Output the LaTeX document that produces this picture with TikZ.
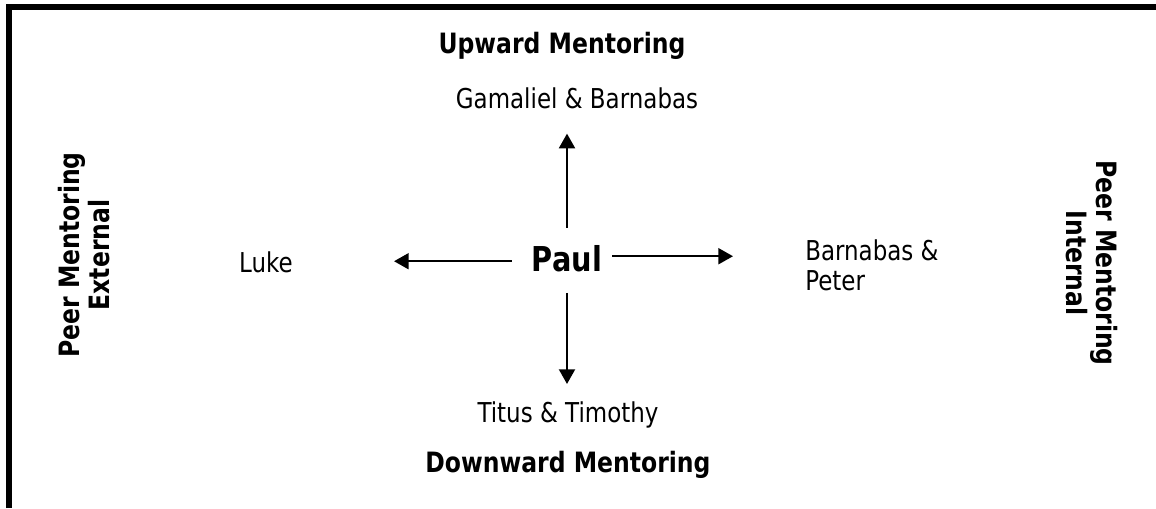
\documentclass[tikz,border=0pt]{standalone}
\usepackage{fontspec}
\setmainfont[FakeStretch=0.84]{DejaVu Sans}
\usetikzlibrary{arrows.meta,calc}
\tikzset{
  lbl/.style={inner sep=0pt, font=\fontsize{20.5pt}{22.5pt}\selectfont},
  hdr/.style={inner sep=0pt, font=\fontsize{21pt}{22.5pt}\selectfont\bfseries},
  centre/.style={inner sep=0pt, font=\fontsize{25.7pt}{28pt}\selectfont\bfseries},
  arr/.style={line width=1.5pt, -{Triangle[length=11pt,width=12pt]}},
  frame/.style={line width=4.5pt}
}
\begin{document}
\begin{tikzpicture}[x=0.75pt,y=-0.75pt]
\useasboundingbox (0,0) rectangle (1156,508);
\draw[frame] (9,508) -- (9,7) -- (1156,7);

\node[hdr, anchor=base] (up) at (562,53) {Upward Mentoring};
\node[lbl, anchor=base] (gam) at (577,108) {Gamaliel \& Barnabas};
\node[centre, anchor=base] (paul) at (567,271) {Paul};
\node[lbl, anchor=base] (luke) at (266,272) {Luke};
\node[lbl, anchor=north west, align=left] (bp) at (805,239) {Barnabas \&\\Peter};
\node[lbl, anchor=base] (tit) at (568,422) {Titus \& Timothy};
\node[hdr, anchor=base] (down) at (568,472) {Downward Mentoring};
\node[hdr, rotate=90, align=center] (ext) at (84,255) {Peer Mentoring\\External};
\node[hdr, rotate=-90, align=center] (int) at (1092,263) {Peer Mentoring\\Internal};

\draw[arr, shorten <=12.75pt, shorten >=18.75pt] (paul.north) -- (paul.north |- gam.south);
\draw[arr, shorten <=15.75pt, shorten >=12.75pt] (paul.south) -- (paul.south |- tit.north);
\draw[arr, shorten <=15pt, shorten >=75.75pt] ([yshift=-2.25pt]paul.west) -- ([yshift=-2.25pt]paul.west -| luke.east);
\draw[arr, shorten <=7.5pt, shorten >=54pt] ([yshift=1.5pt]paul.east) -- ([yshift=1.5pt]paul.east -| bp.west);
\end{tikzpicture}
\end{document}
